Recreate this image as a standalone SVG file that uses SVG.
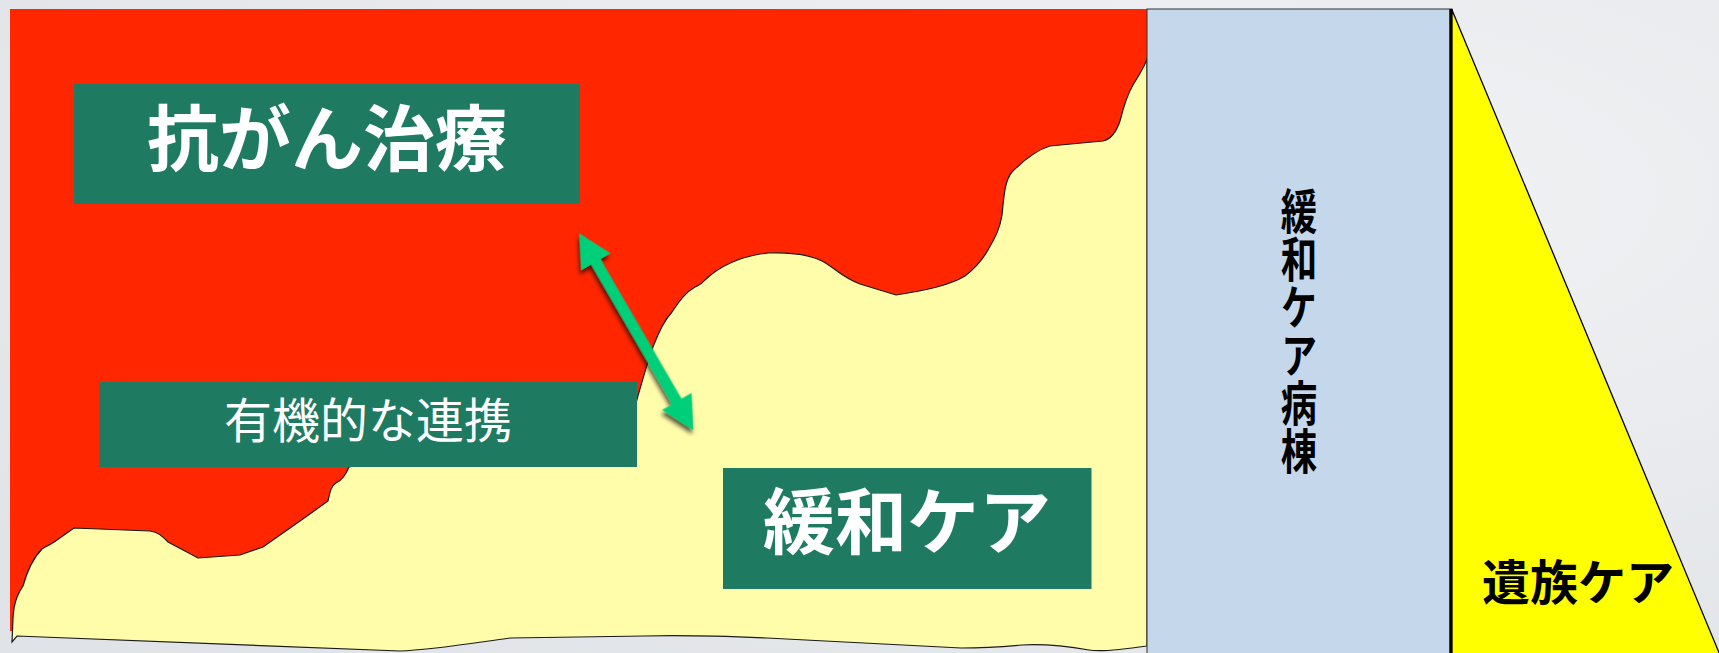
<svg xmlns="http://www.w3.org/2000/svg" width="1719" height="653" viewBox="0 0 1719 653">
<defs>
<radialGradient id="bg" cx="0.7" cy="0.3" r="0.9">
<stop offset="0" stop-color="#f2f3f5"/>
<stop offset="1" stop-color="#e0e3e7"/>
</radialGradient>
<filter id="shadow" x="-30%" y="-30%" width="160%" height="160%">
<feDropShadow dx="3" dy="3" stdDeviation="2" flood-color="#000" flood-opacity="0.65"/>
</filter>
<style>
.box{fill:#1f7a62}
.wt{fill:#ffffff;font-family:"Noto Sans CJK JP","Noto Sans",sans-serif;text-anchor:middle}
.bk{fill:#000000;font-family:"Noto Sans CJK JP","Noto Sans",sans-serif;text-anchor:middle;font-weight:700}
.b72{font-size:72px;font-weight:700}
.r48{font-size:48px;font-weight:400}
</style>
</defs>
<rect x="0" y="0" width="1719" height="653" fill="url(#bg)"/>
<g id="background-areas">
<rect id="red-area" x="10" y="9" width="1137" height="622" fill="#ff2600"/>
<path id="yellow-area" fill="#fffcaa" stroke="#1a1a1a" stroke-width="1.2" d="M12,642 L13,618 C14,600 19,592 23,586 C27,572 33,558 42,549 C48,545 52,544 57,540 L74,528 L150,531 C158,532 162,536 168,542 L198,558 L240,555 L263,547 L300,521 L328,501 C330,492 331,486 336,483 C342,480 345,476 349,467 L636,403 C645,372 655,330 672,312 C680,300 686,292 695,287 C699,285 702,284 705,280 C722,264 742,256 768,253 C795,252 810,255 822,261 C835,268 843,278 860,284 L896,295 C928,290 950,285 965,276 C978,266 984,257 988,250 C996,236 1000,228 1002,215 C1004,195 1005,180 1012,172 C1024,160 1036,150 1050,146 L1103,141 C1112,139 1117,130 1120,121 C1124,105 1127,95 1133,85 C1140,73 1146,65 1147,58 L1147,646 C1120,650 1100,652 1089,650 C1060,645 1040,644 1022,645 C1000,647 980,648 961,648 L767,638 C720,636 680,635 645,636 L510,638 C460,645 430,650 400,651 L17,636 Z"/>
</g>
<g id="ward">
<rect x="1147" y="9" width="305" height="660" fill="#c5d7eb" stroke="#333" stroke-width="1"/>
<line x1="1451" y1="9" x2="1451" y2="653" stroke="#000" stroke-width="3.5"/>
<text class="bk" transform="translate(1299,331) scale(0.76,1)" x="0" y="0" font-size="48" style="writing-mode:vertical-rl" dominant-baseline="central">緩和ケア病棟</text>
</g>
<g id="bereavement">
<polygon points="1452,10 1720,655 1452,655" fill="#ffff00" stroke="#000" stroke-width="1.3"/>
<text class="bk" x="1578" y="600" font-size="48">遺族ケア</text>
</g>
<g id="anticancer">
<rect class="box" x="74" y="84" width="506" height="120"/>
<text class="wt b72" x="327" y="165">抗がん治療</text>
</g>
<g id="collaboration">
<rect class="box" x="99.5" y="382" width="537.5" height="85"/>
<text class="wt r48" x="368" y="438">有機的な連携</text>
</g>
<g id="palliative">
<rect class="box" x="723" y="468" width="368.5" height="121"/>
<text class="wt b72" x="907" y="548">緩和ケア</text>
</g>
<g id="connectors">
<polygon filter="url(#shadow)" fill="#00cf7a" transform="translate(579.3,233.3) rotate(59.9)" points="0,0 33,-17 33,-5.5 194.4,-5.5 194.4,-17 227.4,0 194.4,17 194.4,5.5 33,5.5 33,17"/>
</g>
</svg>
